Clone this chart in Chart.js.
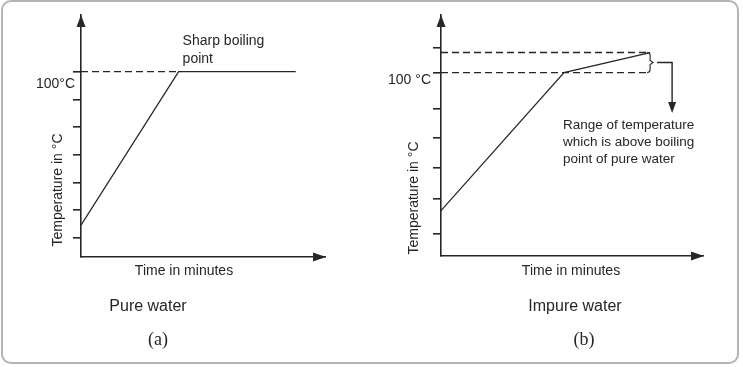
<!DOCTYPE html>
<html>
<head>
<meta charset="utf-8">
<script src="https://cdn.jsdelivr.net/npm/chart.js@4"></script>
<style>
  html, body { margin: 0; padding: 0; background: #fff; }
  #frame {
    position: absolute; left: 1px; top: 0px;
    width: 738px; height: 364px;
    box-sizing: border-box;
    border: 2px solid #b4b4b4; border-radius: 10px;
  }
  canvas { position: absolute; top: 0; }
  #pureChart { left: 0; }
  #impureChart { left: 371px; }
</style>
</head>
<body>
<div id="frame"></div>
<canvas id="pureChart" width="371" height="367"></canvas>
<canvas id="impureChart" width="372" height="367"></canvas>

<script>
// (a) pure water: time (min) vs temperature
const pureTime = [0, 10, 22];
const pureTemp = [44.5, 100, 100];
const pureTicks = [40, 50, 60, 70, 80, 90, 100];

// (b) impure water
const impureTime = [0, 10, 17];
const impureTemp = [54, 100, 106.7];
const impureTicks = [46.2, 57.9, 68.2, 78.2, 87.9, 100, 108.3];

const boilingPoint = 100;

const INK = '#262626';
const SANS = '"Liberation Sans", Arial, sans-serif';
const SERIF = '"Liberation Serif", "Times New Roman", serif';

function points(xs, ys) {
    return xs.map((x, i) => ({ x: x, y: ys[i] }));
}

function fillTri(ctx, a, b, c) {
    ctx.beginPath();
    ctx.moveTo(a[0], a[1]);
    ctx.lineTo(b[0], b[1]);
    ctx.lineTo(c[0], c[1]);
    ctx.closePath();
    ctx.fill();
}

function text(ctx, str, x, y, font, align) {
    ctx.font = font;
    ctx.textAlign = align || 'center';
    ctx.textBaseline = 'middle';
    ctx.fillText(str, x, y);
}

// arrows on the axes + free text around each panel
function decor(draw) {
    return {
        id: 'decor',
        afterDraw(chart) {
            const ctx = chart.ctx;
            const a = chart.chartArea;
            ctx.save();
            ctx.fillStyle = INK;
            ctx.strokeStyle = INK;
            // y axis arrow
            fillTri(ctx, [a.left, a.top], [a.left - 4.5, a.top + 12], [a.left + 4.5, a.top + 12]);
            // x axis arrow
            fillTri(ctx, [a.right + 1, a.bottom], [a.right - 12, a.bottom - 4.5], [a.right - 12, a.bottom + 4.5]);
            draw(chart, ctx, a);
            ctx.restore();
        }
    };
}

function makeChart(id, datasets, xMax, yMin, yMax, ticks, tickLabel, labelOffset, labelPad, yWidth, padRight, xHeight, extra) {
    return new Chart(document.getElementById(id), {
        type: 'line',
        data: { datasets: datasets },
        options: {
            responsive: false,
            animation: false,
            events: [],
            layout: { padding: { left: 0, top: 15, right: padRight, bottom: 0 } },
            plugins: { legend: { display: false }, tooltip: { enabled: false } },
            elements: { point: { radius: 0 }, line: { tension: 0 } },
            scales: {
                x: {
                    type: 'linear', min: 0, max: xMax,
                    grid: { display: false },
                    ticks: { display: false },
                    border: { color: INK, width: 1.6 },
                    afterFit: s => { s.height = xHeight; }
                },
                y: {
                    type: 'linear', min: yMin, max: yMax,
                    afterBuildTicks: s => { s.ticks = ticks.map(v => ({ value: v })); },
                    grid: { drawOnChartArea: false, drawTicks: true, tickLength: 8, color: INK, lineWidth: 1.6 },
                    border: { color: INK, width: 1.6 },
                    ticks: {
                        autoSkip: false,
                        color: INK,
                        font: { family: SANS, size: 14 },
                        padding: labelPad,
                        labelOffset: labelOffset,
                        callback: v => (v === boilingPoint ? tickLabel : '')
                    },
                    afterFit: s => { s.width = yWidth; }
                }
            }
        },
        plugins: [decor(extra)]
    });
}

const solid = { borderColor: INK, borderWidth: 1.3, fill: false };
const dashed = { borderColor: INK, borderWidth: 1.3, borderDash: [7, 4], fill: false };

makeChart('pureChart', [
    Object.assign({ data: points([0, pureTime[1]], [boilingPoint, boilingPoint]) }, dashed),
    Object.assign({ data: points(pureTime, pureTemp) }, solid)
], 25, 33, 120.5, pureTicks, '100°C', 12, -2, 81, 46, 110, (chart, ctx, a) => {
    const xs = chart.scales.x, ys = chart.scales.y;
    const kx = xs.getPixelForValue(pureTime[1]);
    const by = ys.getPixelForValue(boilingPoint);
    text(ctx, 'Sharp boiling', kx + 4, by - 31, '14px ' + SANS, 'left');
    text(ctx, 'point', kx + 4, by - 13, '14px ' + SANS, 'left');

    ctx.save();
    ctx.translate(58, 190);
    ctx.rotate(-Math.PI / 2);
    text(ctx, 'Temperature in °C', 0, 0, '14px ' + SANS);
    ctx.restore();

    text(ctx, 'Time in minutes', 184, 271, '14px ' + SANS);
    text(ctx, 'Pure water', 148, 307, '16px ' + SANS);
    text(ctx, '(a)', 158, 340, '18px ' + SERIF);
});

makeChart('impureChart', [
    Object.assign({ data: points([0, impureTime[2]], [boilingPoint, boilingPoint]) }, dashed),
    Object.assign({ data: points([0, impureTime[2]], [impureTemp[2], impureTemp[2]]) }, dashed),
    Object.assign({ data: points(impureTime, impureTemp) }, solid)
], 21.3, 38.9, 119.2, impureTicks, '100 °C', 8, 2, 70, 40, 111, (chart, ctx, a) => {
    const xs = chart.scales.x, ys = chart.scales.y;
    const bx = xs.getPixelForValue(impureTime[2]);
    const yTop = ys.getPixelForValue(impureTemp[2]);
    const yBot = ys.getPixelForValue(boilingPoint);
    const mid = (yTop + yBot) / 2;

    // small brace closing the range
    ctx.lineWidth = 1.1;
    ctx.beginPath();
    ctx.moveTo(bx - 3, yTop);
    ctx.quadraticCurveTo(bx, yTop, bx, yTop + 3);
    ctx.lineTo(bx, mid - 2);
    ctx.lineTo(bx + 3, mid);
    ctx.lineTo(bx, mid + 2);
    ctx.lineTo(bx, yBot - 3);
    ctx.quadraticCurveTo(bx, yBot, bx - 3, yBot);
    ctx.stroke();

    // leader arrow to the note
    ctx.lineWidth = 1.4;
    ctx.beginPath();
    ctx.moveTo(bx + 7, mid);
    ctx.lineTo(bx + 22, mid);
    ctx.lineTo(bx + 22, 104);
    ctx.stroke();
    fillTri(ctx, [bx + 22, 113], [bx + 18, 102], [bx + 26, 102]);

    text(ctx, 'Range of temperature', 192, 125, '13.5px ' + SANS, 'left');
    text(ctx, 'which is above boiling', 192, 142, '13.5px ' + SANS, 'left');
    text(ctx, 'point of pure water', 192, 159, '13.5px ' + SANS, 'left');

    ctx.save();
    ctx.translate(43, 198);
    ctx.rotate(-Math.PI / 2);
    text(ctx, 'Temperature in °C', 0, 0, '14px ' + SANS);
    ctx.restore();

    text(ctx, 'Time in minutes', 200, 271, '14px ' + SANS);
    text(ctx, 'Impure water', 204, 307, '16px ' + SANS);
    text(ctx, '(b)', 213, 340, '18px ' + SERIF);
});
</script>
</body>
</html>
